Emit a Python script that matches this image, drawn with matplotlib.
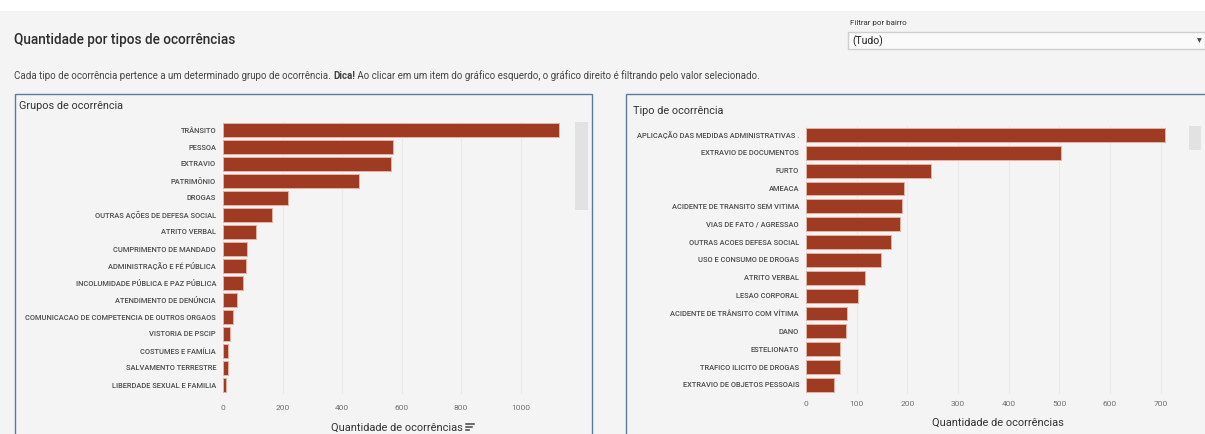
import matplotlib.pyplot as plt
from matplotlib.patches import Rectangle
from matplotlib.lines import Line2D

# occurrence groups (left chart)
grupos = ['TRÂNSITO', 'PESSOA', 'EXTRAVIO', 'PATRIMÔNIO', 'DROGAS',
          'OUTRAS AÇÕES DE DEFESA SOCIAL', 'ATRITO VERBAL', 'CUMPRIMENTO DE MANDADO',
          'ADMINISTRAÇÃO E FÉ PÚBLICA', 'INCOLUMIDADE PÚBLICA E PAZ PÚBLICA',
          'ATENDIMENTO DE DENÚNCIA', 'COMUNICACAO DE COMPETENCIA DE OUTROS ORGAOS',
          'VISTORIA DE PSCIP', 'COSTUMES E FAMÍLIA', 'SALVAMENTO TERRESTRE',
          'LIBERDADE SEXUAL E FAMILIA']
grupos_qtd = [1129, 572, 563, 456, 218, 166, 112, 81, 76, 67, 47, 34, 22, 18, 16, 11]

# occurrence types (right chart)
tipos = ['APLICAÇÃO DAS MEDIDAS ADMINISTRATIVAS .', 'EXTRAVIO DE DOCUMENTOS', 'FURTO',
         'AMEACA', 'ACIDENTE DE TRANSITO SEM VITIMA', 'VIAS DE FATO / AGRESSAO',
         'OUTRAS ACOES DEFESA SOCIAL', 'USO E CONSUMO DE DROGAS', 'ATRITO VERBAL',
         'LESAO CORPORAL', 'ACIDENTE DE TRÂNSITO COM VÍTIMA', 'DANO', 'ESTELIONATO',
         'TRAFICO ILICITO DE DROGAS', 'EXTRAVIO DE OBJETOS PESSOAIS']
tipos_qtd = [709, 504, 247, 194, 190, 185, 167, 149, 116, 103, 81, 79, 68, 68, 56]

ticks_grupos = [0, 200, 400, 600, 800, 1000]
ticks_tipos = [0, 100, 200, 300, 400, 500, 600, 700]

BAR = '#9e3b22'
BAR_EDGE = '#e6b3a3'
BG = '#f4f4f4'
FRAME = '#5a7aa0'

plt.rcParams['font.family'] = ['Roboto', 'DejaVu Sans']

W, H = 1205, 434


def fx(x):
    return x / W


def fy(y):
    return 1 - y / H


fig = plt.figure(figsize=(W / 100, H / 100), dpi=100, facecolor=BG)
fig.patches.append(Rectangle((0, fy(11)), 1, 11 / H, transform=fig.transFigure,
                             facecolor='white', edgecolor='none'))

# header
fig.text(fx(14), fy(40), 'Quantidade por tipos de ocorrências', fontsize=9.8,
         color='#2e2e2e', weight='medium', va='center', ha='left')

renderer = fig.canvas.get_renderer()
parts = [('Cada tipo de ocorrência pertence a um determinado grupo de ocorrência. ', 'normal'),
         ('Dica!', 'bold'),
         (' Ao clicar em um item do gráfico esquerdo, o gráfico direito é filtrando pelo valor selecionado.', 'normal')]
x0 = fx(14)
for txt, wt in parts:
    t = fig.text(x0, fy(76), txt, fontsize=7.05, color='#444444', weight=wt,
                 va='center', ha='left')
    bb = t.get_window_extent(renderer)
    x0 = bb.x1 / W

# filter control
fig.text(fx(850), fy(23), 'Filtrar por bairro', fontsize=5.8, color='#333333',
         va='center', ha='left')
fig.patches.append(Rectangle((fx(848), fy(49)), (W - 848) / W, 17 / H,
                             transform=fig.transFigure, facecolor='#fafafa',
                             edgecolor='#cfcfcf', lw=1))
fig.text(fx(852), fy(41), '(Tudo)', fontsize=7.5, color='#222222', va='center', ha='left')
fig.text(fx(1199), fy(41), '▼', fontsize=4.5, color='#444444', va='center', ha='center',
         family='DejaVu Sans')

# panel frames
fig.patches.append(Rectangle((fx(14.5), fy(440)), (591.5 - 14.5) / W, (440 - 93.5) / H,
                             transform=fig.transFigure, facecolor='none',
                             edgecolor=FRAME, lw=1))
fig.patches.append(Rectangle((fx(625.5), fy(440)), (1210 - 625.5) / W, (440 - 93.5) / H,
                             transform=fig.transFigure, facecolor='none',
                             edgecolor=FRAME, lw=1))
fig.text(fx(19), fy(106), 'Grupos de ocorrência', fontsize=7.8, color='#333333',
         va='center', ha='left')
fig.text(fx(633), fy(111), 'Tipo de ocorrência', fontsize=7.8, color='#333333',
         va='center', ha='left')

# scrollbars
fig.patches.append(Rectangle((fx(575), fy(210)), 13 / W, 88 / H, transform=fig.transFigure,
                             facecolor='#e2e2e2', edgecolor='none'))
fig.patches.append(Rectangle((fx(1189), fy(150)), 12 / W, 24 / H, transform=fig.transFigure,
                             facecolor='#e2e2e2', edgecolor='none'))


def bar_chart(ax, labels, values, ticks, xmax, pad_y, pad_x):
    n = len(labels)
    ax.barh(range(n), values, height=0.78, color=BAR, edgecolor=BAR_EDGE, linewidth=0.7)
    ax.set_ylim(n - 0.5, -0.5)
    ax.set_xlim(0, xmax)
    ax.set_yticks(range(n), labels)
    ax.set_xticks(ticks)
    ax.set_facecolor('none')
    for s in ax.spines.values():
        s.set_visible(False)
    ax.tick_params(axis='y', length=0, labelsize=5.45, labelcolor='#4a4a4a', pad=pad_y)
    ax.tick_params(axis='x', length=0, labelsize=6.0, labelcolor='#707070', pad=pad_x)
    for lbl in ax.get_yticklabels():
        lbl.set_fontweight('medium')
    ax.grid(axis='x', color='#eaeaea', linewidth=0.8)
    ax.set_axisbelow(True)


ax1 = fig.add_axes([fx(223), fy(393.5), 352 / W, 272 / H])
bar_chart(ax1, grupos, grupos_qtd, ticks_grupos, 1183, 5, 8)

ax2 = fig.add_axes([fx(806), fy(393.9), 379 / W, 267.9 / H])
bar_chart(ax2, tipos, tipos_qtd, ticks_tipos, 748, 5, 5)

# axis titles
fig.text(fx(397), fy(428), 'Quantidade de ocorrências', fontsize=7.9, color='#333333',
         va='center', ha='center')
fig.text(fx(998), fy(423), 'Quantidade de ocorrências', fontsize=7.9, color='#333333',
         va='center', ha='center')

# sort icon next to the left axis title
for i, w in enumerate([8, 6, 2.5]):
    y = fy(424 + i * 3)
    fig.lines.append(Line2D([fx(466), fx(466 + w)], [y, y], transform=fig.transFigure,
                            color='#444444', lw=1.1))

fig.savefig('out.png', dpi=100, facecolor=BG)
